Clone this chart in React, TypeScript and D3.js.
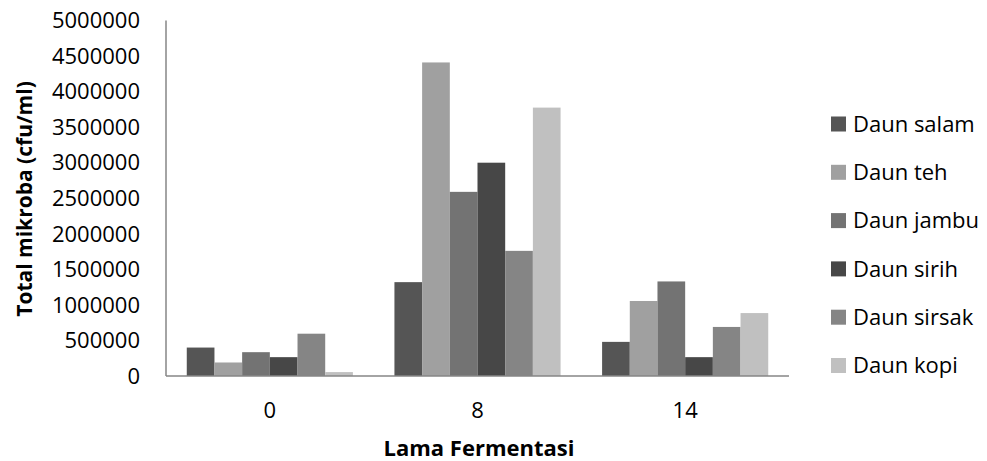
import React from "react";
import * as d3 from "d3";

const categories = ["0", "8", "14"];
const seriesNames = ["Daun salam", "Daun teh", "Daun jambu", "Daun sirih", "Daun sirsak", "Daun kopi"];
const seriesColors = ["#555555", "#a0a0a0", "#737373", "#474747", "#858585", "#c0c0c0"];
// values per series, one per category (0, 8, 14)
const salam = [400000, 1320000, 480000];
const teh = [190000, 4410000, 1055000];
const jambu = [335000, 2590000, 1330000];
const sirih = [265000, 3000000, 265000];
const sirsak = [595000, 1760000, 690000];
const kopi = [55000, 3775000, 885000];
const seriesValues = [salam, teh, jambu, sirih, sirsak, kopi];
const yTicks = [0, 500000, 1000000, 1500000, 2000000, 2500000, 3000000, 3500000, 4000000, 4500000, 5000000];

const W = 987;
const H = 461;
const font = "'Open Sans', 'Noto Sans', sans-serif";

export default function App() {
    const plot = { left: 166, right: 789, top: 20.5, bottom: 376 };

    const x0 = d3.scaleBand().domain(categories).range([plot.left, plot.right]).paddingInner(0).paddingOuter(0);
    // Excel style gap width 150%
    const bw = x0.bandwidth();
    const barW = bw / (seriesNames.length + 1.5);
    const groupOffset = (bw - barW * seriesNames.length) / 2;

    const y = d3.scaleLinear().domain([0, 5000000]).range([plot.bottom, plot.top]);

    const legendY = d3.scalePoint().domain(seriesNames).range([124, 365.5]);

    return (
        <svg width={W} height={H} style={{ position: "absolute", left: 0, top: 0 }}>
            <rect width={W} height={H} fill="#fff" />
            {/* bars */}
            {categories.map((c, ci) => (
                <g key={c}>
                    {seriesValues.map((vals, si) => (
                        <rect
                            key={si}
                            x={(x0(c) as number) + groupOffset + si * barW}
                            y={y(vals[ci])}
                            width={barW}
                            height={plot.bottom - y(vals[ci])}
                            fill={seriesColors[si]}
                        />
                    ))}
                </g>
            ))}
            {/* axes */}
            <line x1={plot.left} x2={plot.left} y1={plot.top} y2={plot.bottom} stroke="#868686" strokeWidth={1.5} />
            <line x1={plot.left} x2={plot.right} y1={plot.bottom} y2={plot.bottom} stroke="#868686" strokeWidth={1.5} />
            {yTicks.map((t) => (
                <text key={t} x={140} y={y(t)} dy="0.35em" textAnchor="end" fontFamily={font} fontSize={22} fill="#000">
                    {t}
                </text>
            ))}
            {categories.map((c) => (
                <text key={c} x={(x0(c) as number) + bw / 2} y={410} dy="0.35em" textAnchor="middle" fontFamily={font} fontSize={22} fill="#000">
                    {c}
                </text>
            ))}
            <text
                transform={`translate(25, 199) rotate(-90)`}
                textAnchor="middle"
                dy="0.35em"
                fontFamily={font}
                fontSize={21}
                fontWeight="bold"
                fill="#000"
            >
                Total mikroba (cfu/ml)
            </text>
            <text x={479} y={456} textAnchor="middle" fontFamily={font} fontSize={22} fontWeight="bold" fill="#000">
                Lama Fermentasi
            </text>
            {/* legend */}
            {seriesNames.map((n, i) => (
                <g key={n} transform={`translate(831, ${legendY(n)})`}>
                    <rect x={0} y={-7.5} width={15} height={15} fill={seriesColors[i]} />
                    <text x={22} y={0} dy="0.35em" fontFamily={font} fontSize={22} fill="#000">
                        {n}
                    </text>
                </g>
            ))}
        </svg>
    );
}
